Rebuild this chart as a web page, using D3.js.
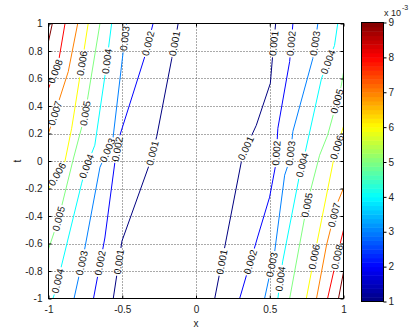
<!DOCTYPE html>
<html><head><meta charset="utf-8">
<script src="https://cdn.jsdelivr.net/npm/d3@7"></script>
<style>body{margin:0;background:#fff}svg{display:block;font-family:"Liberation Sans",Arial,sans-serif}</style>
</head><body><svg id="c" width="413" height="330"></svg>
<script>
// ---------- data ----------
const levels = [0.001,0.002,0.003,0.004,0.005,0.006,0.007,0.008,0.009];
const xTicks = [-1,-0.5,0,0.5,1];
const xTickLabels = ["-1","-0.5","0","0.5","1"];
const tTicks = [-1,-0.8,-0.6,-0.4,-0.2,0,0.2,0.4,0.6,0.8,1];
const tTickLabels = ["-1","-0.8","-0.6","-0.4","-0.2","0","0.2","0.4","0.6","0.8","1"];
const cbTicks = [1,2,3,4,5,6,7,8,9];
const cbTickLabels = ["1","2","3","4","5","6","7","8","9"];

// contour polylines [x, t]
const c001L = [[-0.121,1],[-0.164,0.746],[-0.266,0.18],[-0.313,-0.016],[-0.502,-0.582],[-0.561,-1]];
const c002L = [[-0.291,1],[-0.347,0.76],[-0.516,0.187],[-0.55,-0.009],[-0.618,-0.56],[-0.695,-1]];
const c003L = [[-0.471,1],[-0.563,0.165],[-0.651,-0.045],[-0.766,-0.705],[-0.827,-1]];
const c004L = [[-0.572,1],[-0.618,0.615],[-0.686,0.115],[-0.747,-0.052],[-0.775,-0.161],[-0.957,-0.96],[-0.97,-1]];
const c005L = [[-0.651,1],[-0.753,0.335],[-0.834,0.006],[-0.934,-0.43],[-1,-0.64]];
const c006L = [[-0.731,1],[-0.775,0.697],[-0.843,0.238],[-0.888,0],[-1,-0.2]];
const c007L = [[-0.802,1],[-0.866,0.65],[-1,0.202]];
const c008L = [[-0.888,1],[-0.934,0.71],[-0.978,0.588],[-1,0.528]];
const c009L = [[-0.974,1],[-1,0.87]];
const c001R = [[0.54,1],[0.522,0.797],[0.504,0.565],[0.409,0.26],[0.316,0.042],[0.208,-0.553],[0.127,-1]];
const c002R = [[0.657,1],[0.635,0.724],[0.555,0.238],[0.54,-0.03],[0.499,-0.263],[0.418,-0.553],[0.296,-1]];
const c003R = [[0.826,1],[0.792,0.746],[0.657,0.216],[0.635,0.006],[0.601,-0.103],[0.533,-0.662],[0.465,-1]];
const c004R = [[0.961,1],[0.939,0.84],[0.851,0.601],[0.736,0.042],[0.702,-0.103],[0.587,-0.734],[0.555,-1]];
const c005R = [[1,0.644],[0.984,0.543],[0.892,0.187],[0.838,0.042],[0.756,-0.299],[0.702,-0.611],[0.635,-1]];
const c006R = [[1,0.253],[0.939,0.042],[0.851,-0.43],[0.804,-0.683],[0.748,-1]];
const c007R = [[1,-0.197],[0.953,-0.321],[0.885,-0.611],[0.817,-1]];
const c008R = [[1,-0.502],[0.959,-0.683],[0.892,-1]];
const c009R = [[1,-0.808],[0.966,-1]];

// label positions (t values along each contour)
const lbl001L = [0.855,0.057,-0.734];
const lbl002L = [0.855,0.086,-0.742];
const lbl003L = [0.891,0.078,-0.742];
const lbl004L = [0.725,-0.038,-0.872];
const lbl005L = [0.347,-0.42];
const lbl006L = [0.71,-0.096];
const lbl007L = [0.347];
const lbl008L = [0.652];
const lbl009L = [];
const lbl001R = [0.855,0.093,-0.734];
const lbl002R = [0.855,0.057,-0.734];
const lbl003R = [0.855,0.057,-0.755];
const lbl004R = [0.72,-0.03,-0.857];
const lbl005R = [0.434,-0.321];
const lbl006R = [0.1,-0.698];
const lbl007R = [-0.393];
const lbl008R = [-0.698];
const lbl009R = [];

const contours = [
  {level:levels[0],pts:c001L,lbl:lbl001L},{level:levels[1],pts:c002L,lbl:lbl002L},
  {level:levels[2],pts:c003L,lbl:lbl003L},{level:levels[3],pts:c004L,lbl:lbl004L},
  {level:levels[4],pts:c005L,lbl:lbl005L},{level:levels[5],pts:c006L,lbl:lbl006L},
  {level:levels[6],pts:c007L,lbl:lbl007L},{level:levels[7],pts:c008L,lbl:lbl008L},
  {level:levels[8],pts:c009L,lbl:lbl009L},
  {level:levels[0],pts:c001R,lbl:lbl001R},{level:levels[1],pts:c002R,lbl:lbl002R},
  {level:levels[2],pts:c003R,lbl:lbl003R},{level:levels[3],pts:c004R,lbl:lbl004R},
  {level:levels[4],pts:c005R,lbl:lbl005R},{level:levels[5],pts:c006R,lbl:lbl006R},
  {level:levels[6],pts:c007R,lbl:lbl007R},{level:levels[7],pts:c008R,lbl:lbl008R},
  {level:levels[8],pts:c009R,lbl:lbl009R}
];

// ---------- drawing ----------
const svg = d3.select("#c");
const x = d3.scaleLinear().domain([-1,1]).range([48.5,343.5]);
const y = d3.scaleLinear().domain([-1,1]).range([298.5,23.5]);
const cb = d3.scaleLinear().domain([1,9]).range([301.5,22.5]);

function clamp(v){return Math.max(0,Math.min(1,v));}
function jet(v){
  const r=clamp(Math.min(4*v-1.5,-4*v+4.5));
  const g=clamp(Math.min(4*v-0.5,-4*v+3.5));
  const b=clamp(Math.min(4*v+0.5,-4*v+2.5));
  return d3.rgb(r*255,g*255,b*255).toString();
}
const colorOf = d3.scaleLinear().domain([0.001,0.009]).range([0,1]);

const defs = svg.append("defs");
defs.append("clipPath").attr("id","clip").append("rect")
  .attr("x",48.5).attr("y",23.5).attr("width",295).attr("height",275);

// grid
const grid = svg.append("g").attr("stroke","#555").attr("stroke-width",1).attr("stroke-dasharray","1,2");
grid.selectAll(".gx").data(xTicks.slice(1,-1)).join("line")
  .attr("x1",d=>Math.round(x(d))+0.5).attr("x2",d=>Math.round(x(d))+0.5).attr("y1",23.5).attr("y2",298.5);
grid.selectAll(".gy").data(tTicks.slice(1,-1)).join("line")
  .attr("y1",d=>Math.round(y(d))+0.5).attr("y2",d=>Math.round(y(d))+0.5).attr("x1",48.5).attr("x2",343.5);

// labels positions
const labelData = [];
contours.forEach(c=>{
  c.lbl.forEach(tv=>{
    const p=c.pts;
    for(let i=0;i<p.length-1;i++){
      const t0=p[i][1], t1=p[i+1][1];
      if((tv<=t0&&tv>=t1)||(tv>=t0&&tv<=t1)){
        const f=(tv-t0)/(t1-t0||1);
        const xv=p[i][0]+f*(p[i+1][0]-p[i][0]);
        const ax=x(p[i][0]),ay=y(p[i][1]),bx=x(p[i+1][0]),by=y(p[i+1][1]);
        let dx=bx-ax,dy=by-ay; if(dx<0){dx=-dx;dy=-dy;}
        const ang=Math.atan2(dy,dx)*180/Math.PI;
        labelData.push({px:x(xv),py:y(tv),ang,text:String(c.level)});
        break;
      }
    }
  });
});

const mask = defs.append("mask").attr("id","lblmask").attr("maskUnits","userSpaceOnUse")
  .attr("x",0).attr("y",0).attr("width",413).attr("height",330);
mask.append("rect").attr("x",0).attr("y",0).attr("width",413).attr("height",330).attr("fill","#fff");

const line = d3.line().x(d=>x(d[0])).y(d=>y(d[1]));
svg.append("g").attr("clip-path","url(#clip)").append("g").attr("mask","url(#lblmask)")
  .selectAll("path").data(contours).join("path")
  .attr("d",d=>line(d.pts)).attr("fill","none")
  .attr("stroke",d=>jet(colorOf(d.level))).attr("stroke-width",1);

const lg = svg.append("g").attr("font-size","10px").attr("fill","#111");
const texts = lg.selectAll("text").data(labelData).join("text")
  .attr("transform",d=>`translate(${d.px},${d.py}) rotate(${d.ang})`)
  .attr("text-anchor","middle").attr("dy","0.35em").text(d=>d.text);
texts.each(function(d){
  const L=this.getComputedTextLength()+3;
  mask.append("rect").attr("x",-L/2).attr("y",-5).attr("width",L).attr("height",10)
    .attr("transform",`translate(${d.px},${d.py}) rotate(${d.ang})`).attr("fill","#000");
});

// axes
const axG = svg.append("g").attr("font-size","10px");
const fmtX=(d,i)=>xTickLabels[i], fmtT=(d,i)=>tTickLabels[i];
axG.append("g").attr("transform","translate(0,298.5)")
  .call(d3.axisBottom(x).tickValues(xTicks).tickFormat(fmtX).tickSize(-3).tickSizeOuter(0).tickPadding(7));
axG.append("g").attr("transform","translate(0,23.5)")
  .call(d3.axisTop(x).tickValues(xTicks).tickFormat("").tickSize(-3).tickSizeOuter(0));
axG.append("g").attr("transform","translate(48.5,0)")
  .call(d3.axisLeft(y).tickValues(tTicks).tickFormat(fmtT).tickSize(-3).tickSizeOuter(0).tickPadding(6));
axG.append("g").attr("transform","translate(343.5,0)")
  .call(d3.axisRight(y).tickValues(tTicks).tickFormat("").tickSize(-3).tickSizeOuter(0));
axG.selectAll(".domain").remove();
axG.selectAll("text").attr("fill","#222").attr("font-family","Liberation Sans, Arial, sans-serif").attr("font-size","10px");
axG.selectAll(".tick line").attr("stroke","#000");
svg.append("rect").attr("x",48.5).attr("y",23.5).attr("width",295).attr("height",275)
  .attr("fill","none").attr("stroke","#000");

// axis titles
svg.append("text").attr("x",196).attr("y",327).attr("text-anchor","middle")
  .attr("font-size","10px").attr("fill","#222").text("x");
svg.append("text").attr("transform","translate(21,161) rotate(-90)").attr("text-anchor","middle")
  .attr("font-size","10px").attr("fill","#222").text("t");

// colorbar
const nSteps=64;
const steps=d3.range(nSteps);
const cbStep=d3.scaleLinear().domain([0,nSteps]).range([1,9]);
svg.append("g").selectAll("rect").data(steps).join("rect")
  .attr("x",361.5).attr("width",22)
  .attr("y",d=>cb(cbStep(d+1))).attr("height",d=>cb(cbStep(d))-cb(cbStep(d+1))+0.5)
  .attr("fill",d=>jet((d+0.5)/nSteps));
svg.append("rect").attr("x",361.5).attr("y",22.5).attr("width",22).attr("height",279)
  .attr("fill","none").attr("stroke","#000");
const cbAx = svg.append("g").attr("transform","translate(383.5,0)")
  .call(d3.axisRight(cb).tickValues(cbTicks).tickFormat((d,i)=>cbTickLabels[i]).tickSize(3).tickSizeOuter(0).tickPadding(2));
cbAx.select(".domain").remove();
cbAx.selectAll("text").attr("fill","#222").attr("font-family","Liberation Sans, Arial, sans-serif").attr("font-size","10px");
svg.append("text").attr("x",384).attr("y",16).attr("font-size","9px").attr("fill","#222").text("x 10");
svg.append("text").attr("x",402).attr("y",10).attr("font-size","7px").attr("fill","#222").text("-3");
</script></body></html>
